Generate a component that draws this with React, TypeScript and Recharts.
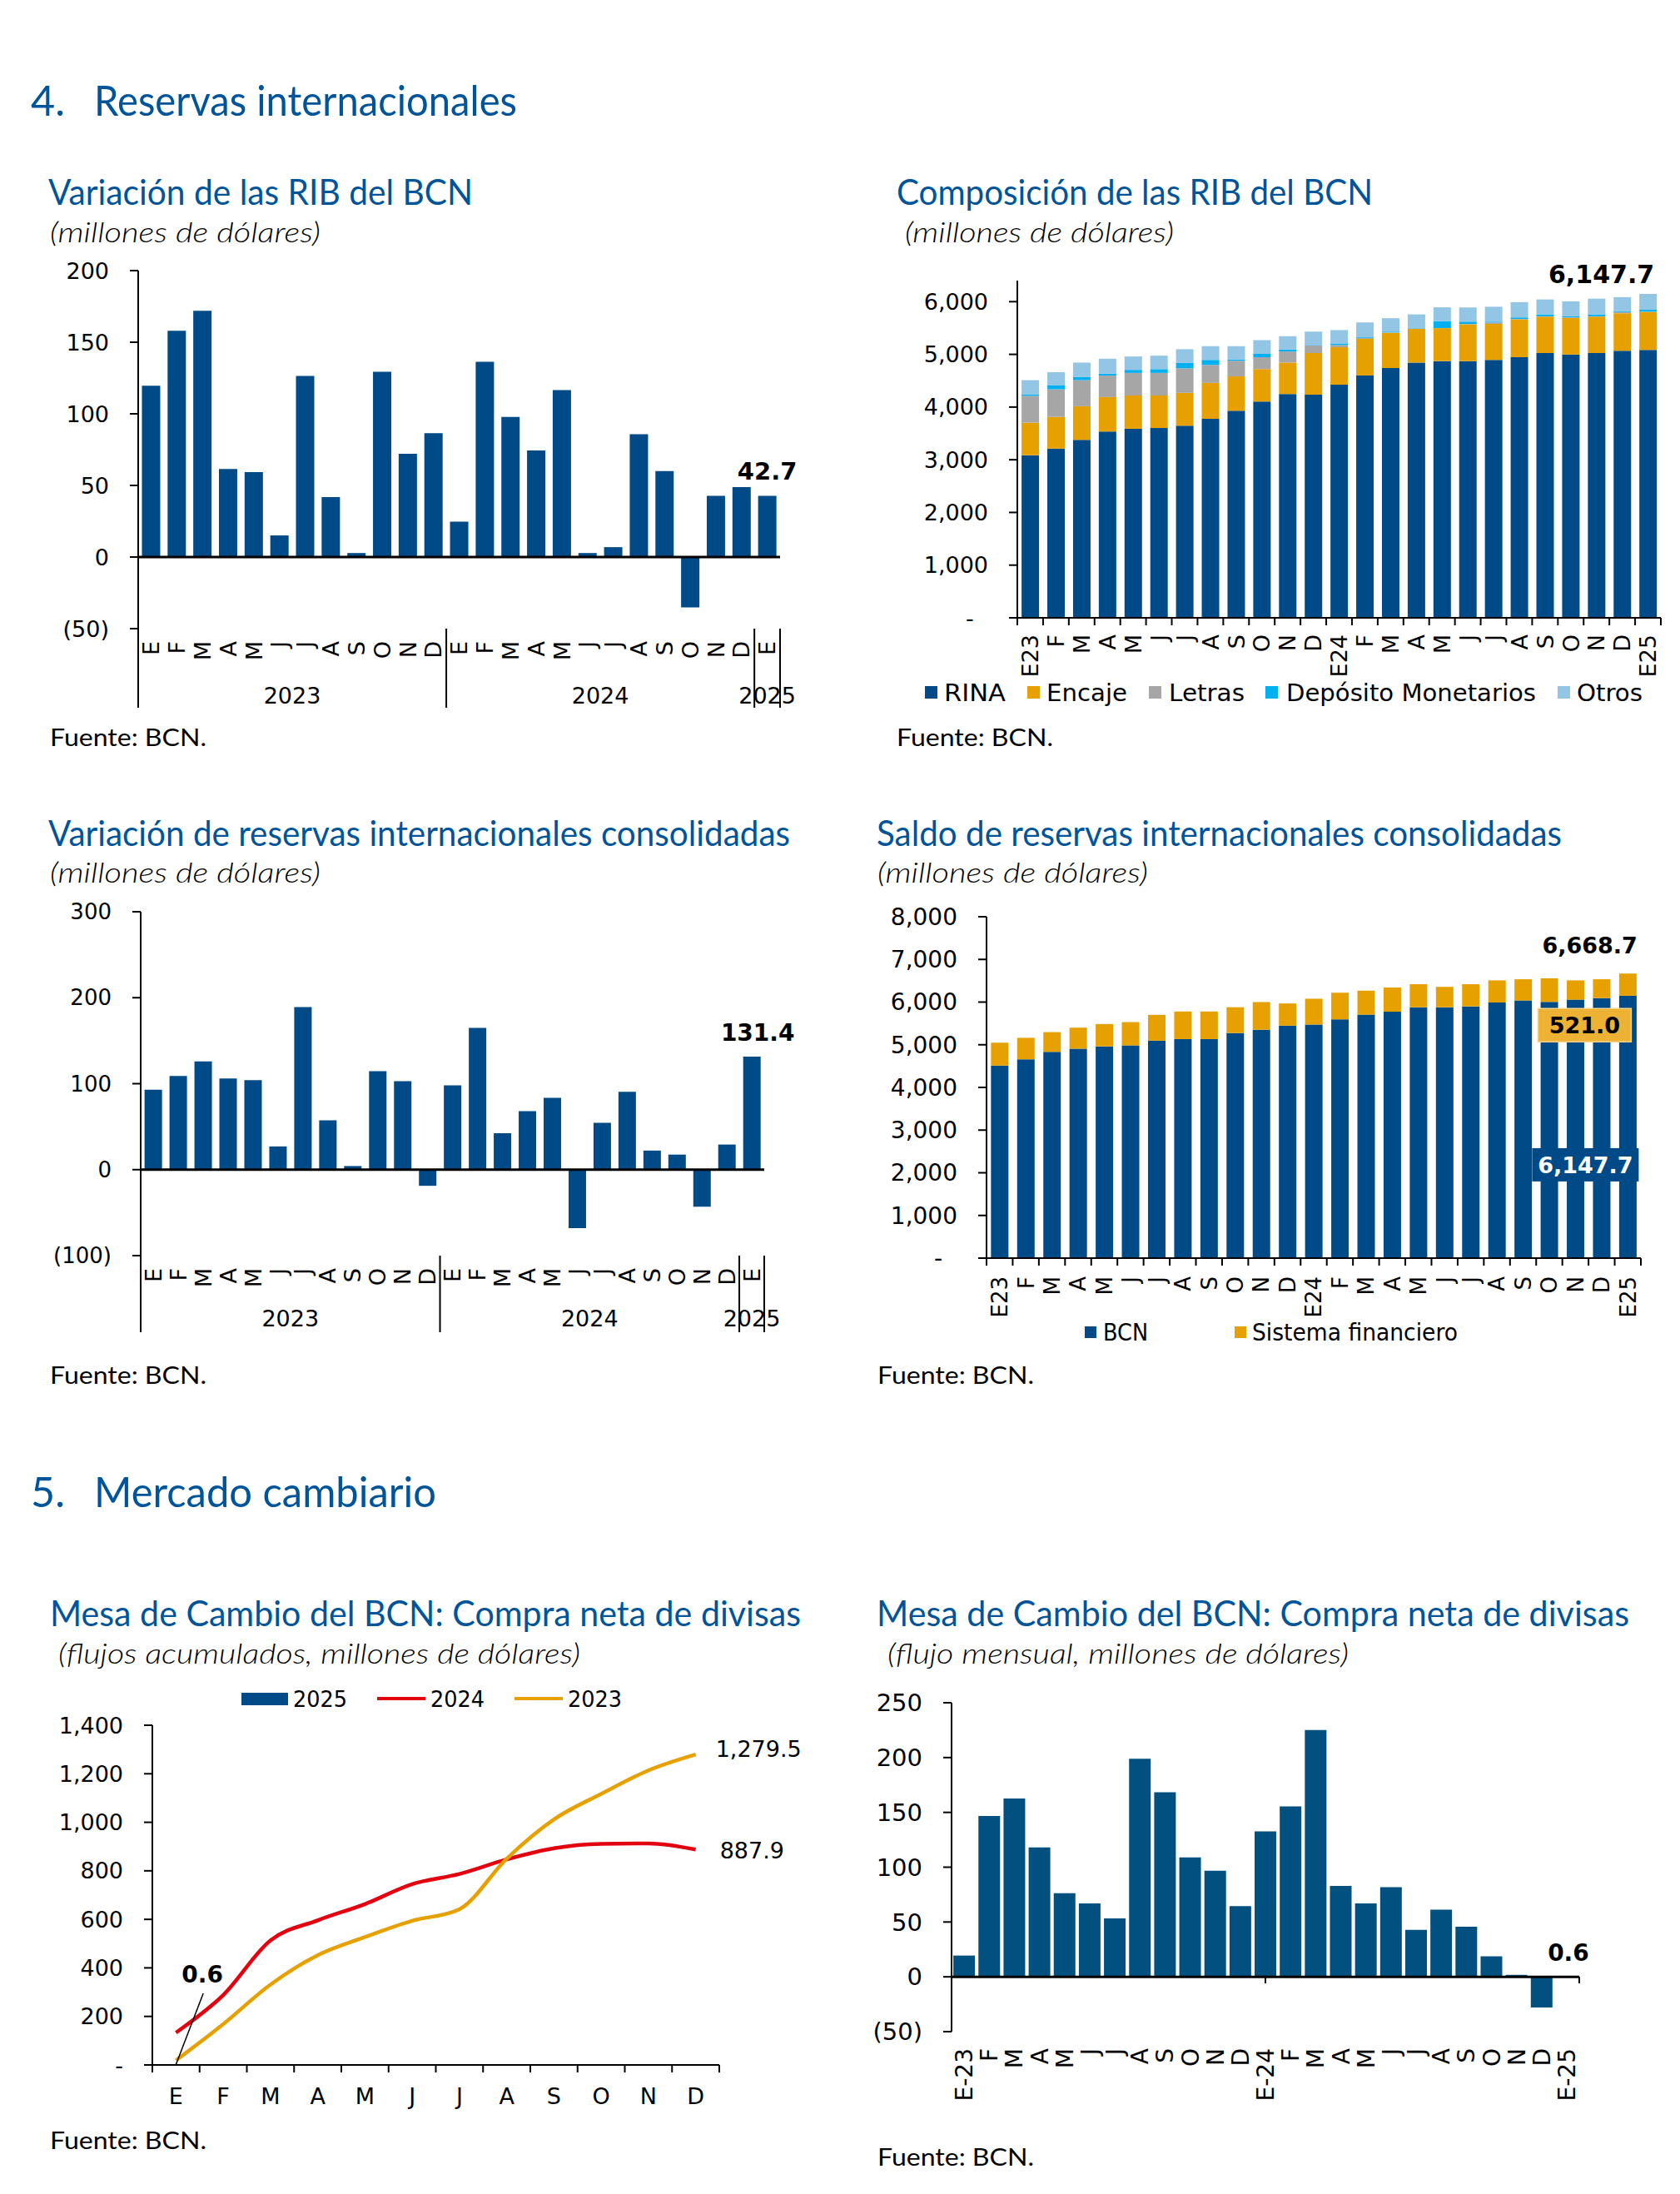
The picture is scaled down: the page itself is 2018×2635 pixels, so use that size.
import React from 'react';
import { BarChart, Bar, XAxis, YAxis, ReferenceLine, LabelList, ComposedChart, Line } from 'recharts';

const FONT = '"DejaVu Sans", Verdana, sans-serif';
const TFONT = 'Lato, "Open Sans", sans-serif';
const BLUE = '#004B87';
const BLUE6 = '#02507F';
const AMBER = '#E6A100';
const GRAY = '#A6A6A6';
const CYAN = '#00B0F0';
const LIGHT = '#93C5E4';
const RED = '#E3000F';
const TITLE = '#00549A';

// ---------- data ----------
const monthLetters = ['E','F','M','A','M','J','J','A','S','O','N','D','E','F','M','A','M','J','J','A','S','O','N','D','E'];
const periodCodes = ['E23','F','M','A','M','J','J','A','S','O','N','D','E24','F','M','A','M','J','J','A','S','O','N','D','E25'];
const periodCodesDash = ['E-23','F','M','A','M','J','J','A','S','O','N','D','E-24','F','M','A','M','J','J','A','S','O','N','D','E-25'];
const yearGroups = [
  { label: '2023', start: 0, count: 12 },
  { label: '2024', start: 12, count: 12 },
  { label: '2025', start: 24, count: 1 },
];
const months12 = ['E','F','M','A','M','J','J','A','S','O','N','D'];

// Chart 1: Variación de las RIB del BCN
const ribVariation = [119.6, 158, 172, 61.5, 59.3, 15.1, 126.4, 41.9, 2.8, 129.4, 72.1, 86.5, 24.7, 136.3, 97.8, 74.4, 116.5, 2.8, 6.9, 85.8, 60.1, -35.2, 42.8, 48.8, 42.7];

// Chart 2: Composición de las RIB del BCN
const compNames = ['RINA', 'Encaje', 'Letras', 'Depósito Monetarios', 'Otros'];
const rina = [3086, 3210, 3377, 3537, 3588, 3602, 3646, 3776, 3929, 4103, 4248, 4234, 4423, 4597, 4742, 4844, 4873, 4873, 4895, 4946, 5025, 4996, 5025, 5069, 5083];
const encaje = [618, 603, 639, 653, 631, 617, 624, 683, 653, 617, 596, 791, 711, 697, 668, 639, 624, 697, 682, 718, 690, 697, 690, 712, 720];
const letras = [508, 523, 494, 407, 429, 429, 465, 341, 298, 226, 210, 145, 44, 14, 7, 7, 3, 7, 29, 7, 7, 7, 7, 22, 7];
const depositos = [29, 72, 58, 36, 58, 72, 102, 95, 22, 65, 37, 8, 29, 15, 15, 7, 131, 44, 15, 30, 37, 22, 37, 14, 36];
const otros = [269, 254, 276, 284, 254, 255, 261, 261, 254, 261, 254, 254, 254, 283, 254, 262, 262, 269, 283, 290, 283, 284, 298, 269, 301.7];

// Chart 3: Variación de reservas internacionales consolidadas
const consVariation = [93, 109, 126, 106, 104, 27, 189, 57.5, 4.2, 114.5, 103, -18.8, 98, 165, 42.3, 68, 83.5, -68, 54.6, 90.5, 22.2, 17.5, -43, 29.2, 131.4];

// Chart 4: Saldo de reservas internacionales consolidadas
const saldoNames = ['BCN', 'Sistema financiero'];
const saldoBCN = [4513, 4659, 4833, 4908, 4963, 4985, 5096, 5133, 5133, 5274, 5352, 5448, 5474, 5596, 5705, 5774, 5879, 5879, 5900, 5990, 6037, 6004, 6057, 6094, 6147.7];
const saldoSF = [535, 504, 463, 492, 522, 546, 604, 646, 646, 605, 648, 520, 605, 624, 563, 568, 541, 478, 520, 519, 498, 553, 452, 441, 521.0];

// Chart 5: Compra neta acumulada
const cum2025 = [0.6, null, null, null, null, null, null, null, null, null, null, null];
const cum2024 = [133, 288, 513, 596, 663, 745, 787, 847, 893, 911, 913, 887.9];
const cum2023 = [19, 168, 331, 452, 527, 594, 642, 850, 1012, 1117, 1214, 1279.5];

// Chart 6: Compra neta mensual
const monthlyFlow = [19.4, 146.8, 162.6, 118, 76.3, 66.9, 53.2, 198.9, 168.3, 109, 96.8, 64.4, 132.7, 155.4, 225.2, 83, 66.9, 81.7, 42.8, 61.2, 45.7, 18.7, 1.8, -28, 0.6];

// ---------- layout ----------
type Box = { L: number; T: number; W: number; H: number; x0: number; x1: number; y0: number; y1: number; yw: number; xh: number };
const C1: Box = { L: 0, T: 300, W: 1000, H: 580, x0: 166, x1: 937, y0: 325, y1: 755, yw: 100, xh: 100 };
const C2: Box = { L: 1010, T: 310, W: 1008, H: 560, x0: 1222, x1: 1995, y0: 337, y1: 742, yw: 120, xh: 80 };
const C3: Box = { L: 0, T: 1070, W: 1000, H: 560, x0: 169, x1: 918, y0: 1095, y1: 1508, yw: 100, xh: 100 };
const C4: Box = { L: 1010, T: 1075, W: 1008, H: 540, x0: 1185, x1: 1971, y0: 1101, y1: 1511, yw: 130, xh: 80 };
const C5: Box = { L: 0, T: 2050, W: 1000, H: 520, x0: 183, x1: 864, y0: 2072, y1: 2480, yw: 120, xh: 60 };
const C6: Box = { L: 1010, T: 2020, W: 1008, H: 560, x0: 1143, x1: 1897, y0: 2045, y1: 2440, yw: 100, xh: 90 };
const mg = (c: Box) => ({ top: c.y0 - c.T, left: c.x0 - c.L - c.yw, right: c.L + c.W - c.x1, bottom: c.T + c.H - c.y1 - c.xh });

const fmtParen = (v: number) => (v < 0 ? `(${Math.abs(v)})` : `${v}`);
const fmtThousandsPad = (v: number) => (v === 0 ? '-\u00A0\u00A0' : v.toLocaleString('en-US'));
const fmtThousands = (v: number) => (v === 0 ? '-' : v.toLocaleString('en-US'));
const fmt1 = (v: number) => v.toLocaleString('en-US', { minimumFractionDigits: 1, maximumFractionDigits: 1 });

const axisStyle = { stroke: '#000', strokeWidth: 2 };
const tickStyle = (fs: number) => ({ fill: '#000', fontSize: fs, fontFamily: FONT });

// ---------- tick renderers ----------
function LetterYearTick(p: any) {
  const { x, y, index, band, fs, letters, groups, lineLen, letterGap, yearDy, yearFs } = p;
  const n = letters.length;
  const out: any[] = [];
  out.push(
    <text key="t" transform={`translate(${x + fs * 0.36},${y + letterGap}) rotate(-90)`} textAnchor="end" fontSize={fs} fontFamily={FONT} fill="#000">
      {letters[index]}
    </text>
  );
  groups.forEach((g: any) => {
    if (g.start === index) {
      out.push(<line key={'s' + g.label} x1={x - band / 2} x2={x - band / 2} y1={y} y2={y + lineLen} stroke="#000" strokeWidth={2} />);
      out.push(
        <text key={'y' + g.label} x={x - band / 2 + (g.count * band) / 2} y={y + yearDy} textAnchor="middle" fontSize={yearFs} fontFamily={FONT} fill="#000">
          {g.label}
        </text>
      );
    }
  });
  if (index === n - 1) out.push(<line key="end" x1={x + band / 2} x2={x + band / 2} y1={y} y2={y + lineLen} stroke="#000" strokeWidth={2} />);
  return <g>{out}</g>;
}

function RotTick(p: any) {
  const { x, y, index, band, fs, labels, gap, marks, markLen } = p;
  const n = labels.length;
  return (
    <g>
      {marks && <line x1={x - band / 2} x2={x - band / 2} y1={y} y2={y + markLen} stroke="#000" strokeWidth={2} />}
      {marks && index === n - 1 && <line x1={x + band / 2} x2={x + band / 2} y1={y} y2={y + markLen} stroke="#000" strokeWidth={2} />}
      <text transform={`translate(${x + fs * 0.36},${y + gap}) rotate(-90)`} textAnchor="end" fontSize={fs} fontFamily={FONT} fill="#000">
        {labels[index]}
      </text>
    </g>
  );
}

function MonthTick(p: any) {
  const { x, y, index, band, fs, labels, dy, markLen } = p;
  const n = labels.length;
  return (
    <g>
      <line x1={x - band / 2} x2={x - band / 2} y1={y} y2={y + markLen} stroke="#000" strokeWidth={2} />
      {index === n - 1 && <line x1={x + band / 2} x2={x + band / 2} y1={y} y2={y + markLen} stroke="#000" strokeWidth={2} />}
      <text x={x} y={y + dy} textAnchor="middle" fontSize={fs} fontFamily={FONT} fill="#000">
        {labels[index]}
      </text>
    </g>
  );
}

const geo = (p: any) => {
  const vb = p.viewBox || {};
  return {
    x: p.x ?? vb.x,
    y: p.y ?? vb.y,
    width: p.width ?? vb.width ?? 0,
    height: p.height ?? vb.height ?? 0,
  };
};

// ---------- charts ----------
function Chart1() {
  const data = ribVariation.map((v, i) => ({ k: String(i), v }));
  const band = (C1.x1 - C1.x0) / data.length;
  const last = data.length - 1;
  return (
    <BarChart width={C1.W} height={C1.H} data={data} margin={mg(C1)} barCategoryGap="14.5%">
      <XAxis dataKey="k" axisLine={false} tickLine={false} tickSize={0} tickMargin={0} interval={0} height={C1.xh}
        tick={(p: any) => <LetterYearTick {...p} band={band} fs={27} letters={monthLetters} groups={yearGroups} lineLen={95} letterGap={15} yearDy={90} yearFs={27} />} />
      <YAxis domain={[-50, 200]} ticks={[-50, 0, 50, 100, 150, 200]} interval={0} width={C1.yw} tickFormatter={fmtParen}
        axisLine={axisStyle} tickLine={axisStyle} tickSize={10} tickMargin={25} tick={tickStyle(27)} allowDataOverflow />
      <Bar dataKey="v" fill={BLUE} isAnimationActive={false}>
        <LabelList dataKey="v" content={(p: any) => {
          if (p.index !== last) return null;
          const g = geo(p);
          return <text x={g.x + g.width / 2} y={g.y - 20} textAnchor="middle" fontSize={29} fontWeight="bold" fontFamily={FONT} fill="#000">{fmt1(Number(p.value))}</text>;
        }} />
      </Bar>
      <ReferenceLine y={0} stroke="#000" strokeWidth={3} />
    </BarChart>
  );
}

function Chart2() {
  const data = rina.map((r, i) => ({ k: String(i), rina: r, enc: encaje[i], let: letras[i], dep: depositos[i], otr: otros[i], total: r + encaje[i] + letras[i] + depositos[i] + otros[i] }));
  const band = (C2.x1 - C2.x0) / data.length;
  const last = data.length - 1;
  return (
    <BarChart width={C2.W} height={C2.H} data={data} margin={mg(C2)} barCategoryGap="16.5%">
      <XAxis dataKey="k" axisLine={axisStyle} tickLine={false} tickSize={0} tickMargin={0} interval={0} height={C2.xh}
        tick={(p: any) => <RotTick {...p} band={band} fs={27} labels={periodCodes} gap={20} marks markLen={9} />} />
      <YAxis domain={[0, 6400]} ticks={[0, 1000, 2000, 3000, 4000, 5000, 6000]} interval={0} width={C2.yw} tickFormatter={fmtThousandsPad}
        axisLine={axisStyle} tickLine={axisStyle} tickSize={10} tickMargin={25} tick={tickStyle(27)} allowDataOverflow />
      <Bar dataKey="rina" stackId="a" fill={BLUE} isAnimationActive={false} />
      <Bar dataKey="enc" stackId="a" fill={AMBER} isAnimationActive={false} />
      <Bar dataKey="let" stackId="a" fill={GRAY} isAnimationActive={false} />
      <Bar dataKey="dep" stackId="a" fill={CYAN} isAnimationActive={false} />
      <Bar dataKey="otr" stackId="a" fill={LIGHT} isAnimationActive={false}>
        <LabelList dataKey="total" content={(p: any) => {
          if (p.index !== last) return null;
          const g = geo(p);
          return <text x={g.x + g.width - 3} y={g.y - 13} textAnchor="end" fontSize={30} fontWeight="bold" fontFamily={FONT} fill="#000">{fmt1(Number(p.value))}</text>;
        }} />
      </Bar>
    </BarChart>
  );
}

function Chart3() {
  const data = consVariation.map((v, i) => ({ k: String(i), v }));
  const band = (C3.x1 - C3.x0) / data.length;
  const last = data.length - 1;
  return (
    <BarChart width={C3.W} height={C3.H} data={data} margin={mg(C3)} barCategoryGap="15.5%">
      <XAxis dataKey="k" axisLine={false} tickLine={false} tickSize={0} tickMargin={0} interval={0} height={C3.xh}
        tick={(p: any) => <LetterYearTick {...p} band={band} fs={27} letters={monthLetters} groups={yearGroups} lineLen={92} letterGap={15} yearDy={85} yearFs={27} />} />
      <YAxis domain={[-100, 300]} ticks={[-100, 0, 100, 200, 300]} interval={0} width={C3.yw} tickFormatter={fmtParen}
        axisLine={axisStyle} tickLine={axisStyle} tickSize={10} tickMargin={25} tick={tickStyle(26)} allowDataOverflow />
      <Bar dataKey="v" fill={BLUE} isAnimationActive={false}>
        <LabelList dataKey="v" content={(p: any) => {
          if (p.index !== last) return null;
          const g = geo(p);
          return <text x={g.x + g.width / 2 + 7} y={g.y - 19} textAnchor="middle" fontSize={28} fontWeight="bold" fontFamily={FONT} fill="#000">{fmt1(Number(p.value))}</text>;
        }} />
      </Bar>
      <ReferenceLine y={0} stroke="#000" strokeWidth={3} />
    </BarChart>
  );
}

function Chart4() {
  const data = saldoBCN.map((b, i) => ({ k: String(i), bcn: b, sf: saldoSF[i], total: b + saldoSF[i] }));
  const band = (C4.x1 - C4.x0) / data.length;
  const last = data.length - 1;
  return (
    <BarChart width={C4.W} height={C4.H} data={data} margin={mg(C4)} barCategoryGap="17%">
      <XAxis dataKey="k" axisLine={axisStyle} tickLine={false} tickSize={0} tickMargin={0} interval={0} height={C4.xh}
        tick={(p: any) => <RotTick {...p} band={band} fs={26} labels={periodCodes} gap={22} marks markLen={9} />} />
      <YAxis domain={[0, 8000]} ticks={[0, 1000, 2000, 3000, 4000, 5000, 6000, 7000, 8000]} interval={0} width={C4.yw} tickFormatter={fmtThousandsPad}
        axisLine={axisStyle} tickLine={axisStyle} tickSize={10} tickMargin={25} tick={tickStyle(28)} allowDataOverflow />
      <Bar dataKey="bcn" stackId="a" fill={BLUE} isAnimationActive={false} />
      <Bar dataKey="sf" stackId="a" fill={AMBER} isAnimationActive={false}>
        <LabelList dataKey="sf" content={(p: any) => {
          if (p.index !== last) return null;
          const g = geo(p);
          const row = data[last];
          const cx = g.x + g.width / 2;
          const bcnTop = g.y + g.height;
          const sfCy = g.y + 62;
          const bcCy = bcnTop + 203;
          return (
            <g>
              <text x={g.x + g.width + 1} y={g.y - 24} textAnchor="end" fontSize={27} fontWeight="bold" fontFamily={FONT} fill="#000">{fmt1(row.total)}</text>
              <rect x={cx - 52 - 56} y={sfCy - 20} width={112} height={40} fill="#EDB234" stroke="#F5D48A" strokeWidth={1.5} />
              <text x={cx - 52} y={sfCy + 10} textAnchor="middle" fontSize={27} fontWeight="bold" fontFamily={FONT} fill="#000">{fmt1(row.sf)}</text>
              <rect x={cx - 51 - 64} y={bcCy - 20} width={128} height={40} fill={BLUE} />
              <text x={cx - 51} y={bcCy + 10} textAnchor="middle" fontSize={27} fontWeight="bold" fontFamily={FONT} fill="#fff">{fmt1(row.bcn)}</text>
            </g>
          );
        }} />
      </Bar>
    </BarChart>
  );
}

function Chart5() {
  const data = months12.map((m, i) => ({ k: String(i), a25: cum2025[i], a24: cum2024[i], a23: cum2023[i] }));
  const band = (C5.x1 - C5.x0) / data.length;
  const last = data.length - 1;
  const endLabel = (dx: number, dy: number) => (p: any) => {
    if (p.index !== last) return null;
    const g = geo(p);
    return <text x={g.x + dx} y={g.y + dy} textAnchor="start" fontSize={27} fontFamily={FONT} fill="#000">{fmt1(Number(p.value))}</text>;
  };
  return (
    <ComposedChart width={C5.W} height={C5.H} data={data} margin={mg(C5)} barCategoryGap="10%">
      <XAxis dataKey="k" axisLine={axisStyle} tickLine={false} tickSize={0} tickMargin={0} interval={0} height={C5.xh}
        tick={(p: any) => <MonthTick {...p} band={band} fs={27} labels={months12} dy={47} markLen={9} />} />
      <YAxis domain={[0, 1400]} ticks={[0, 200, 400, 600, 800, 1000, 1200, 1400]} interval={0} width={C5.yw} tickFormatter={fmtThousands}
        axisLine={axisStyle} tickLine={axisStyle} tickSize={10} tickMargin={25} tick={tickStyle(27)} allowDataOverflow />
      <Bar dataKey="a25" fill={BLUE} isAnimationActive={false}>
        <LabelList dataKey="a25" content={(p: any) => {
          if (p.index !== 0) return null;
          const g = geo(p);
          const cx = g.x + g.width / 2;
          const by = g.y + g.height;
          return (
            <g>
              <line x1={cx} y1={by} x2={cx + 33} y2={by - 86} stroke="#000" strokeWidth={1.5} />
              <text x={cx + 32} y={by - 99} textAnchor="middle" fontSize={28} fontWeight="bold" fontFamily={FONT} fill="#000">{fmt1(Number(p.value))}</text>
            </g>
          );
        }} />
      </Bar>
      <Line dataKey="a24" type="monotone" stroke={RED} strokeWidth={4.5} dot={false} isAnimationActive={false}>
        <LabelList dataKey="a24" content={endLabel(29, 11)} />
      </Line>
      <Line dataKey="a23" type="monotone" stroke={AMBER} strokeWidth={4.5} dot={false} isAnimationActive={false}>
        <LabelList dataKey="a23" content={endLabel(24, 3)} />
      </Line>
    </ComposedChart>
  );
}

function Chart6() {
  const data = monthlyFlow.map((v, i) => ({ k: String(i), v }));
  const band = (C6.x1 - C6.x0) / data.length;
  const last = data.length - 1;
  return (
    <BarChart width={C6.W} height={C6.H} data={data} margin={mg(C6)} barCategoryGap="7%">
      <XAxis dataKey="k" axisLine={false} tickLine={false} tickSize={0} tickMargin={0} interval={0} height={C6.xh}
        tick={(p: any) => <RotTick {...p} band={band} fs={28} labels={periodCodesDash} gap={20} />} />
      <XAxis xAxisId="n" type="number" domain={[0, data.length]} hide allowDataOverflow />
      <YAxis domain={[-50, 250]} ticks={[-50, 0, 50, 100, 150, 200, 250]} interval={0} width={C6.yw} tickFormatter={fmtParen}
        axisLine={axisStyle} tickLine={axisStyle} tickSize={10} tickMargin={25} tick={tickStyle(29)} allowDataOverflow />
      <Bar dataKey="v" fill={BLUE6} isAnimationActive={false}>
        <LabelList dataKey="v" content={(p: any) => {
          if (p.index !== last) return null;
          const g = geo(p);
          return <text x={g.x + g.width / 2 + 2} y={g.y - 18} textAnchor="middle" fontSize={28} fontWeight="bold" fontFamily={FONT} fill="#000">{fmt1(Number(p.value))}</text>;
        }} />
      </Bar>
      <ReferenceLine y={0} stroke="#000" strokeWidth={3} />
      <ReferenceLine xAxisId="n" segment={[{ x: 12, y: 0 }, { x: 12, y: -6 }]} stroke="#000" strokeWidth={2} ifOverflow="visible" />
      <ReferenceLine xAxisId="n" segment={[{ x: 24, y: 0 }, { x: 24, y: -6 }]} stroke="#000" strokeWidth={2} ifOverflow="visible" />
    </BarChart>
  );
}

// ---------- text layer ----------
function T(props: any) {
  const { x, y, size, w, children, italic, color, family, anchor, weight } = props;
  return (
    <text x={x} y={y} fontSize={size} fontFamily={family || TFONT} fontStyle={italic ? 'italic' : 'normal'} fontWeight={weight || 'normal'} fill={color || TITLE}
      textLength={w} lengthAdjust={w ? 'spacingAndGlyphs' : undefined} textAnchor={anchor || 'start'}>
      {children}
    </text>
  );
}

const SUB = '#000';

function TextLayer() {
  const compColors = [BLUE, AMBER, GRAY, CYAN, LIGHT];
  const compLeg = [
    { sq: 1111, tx: 1134, w: 74 },
    { sq: 1234, tx: 1257, w: 97 },
    { sq: 1380, tx: 1404, w: 91 },
    { sq: 1520, tx: 1545, w: 300 },
    { sq: 1871, tx: 1894, w: 79 },
  ];
  const saldoColors = [BLUE, AMBER];
  const saldoLeg = [
    { sq: 1303, tx: 1325, w: 54 },
    { sq: 1483, tx: 1504, w: 247 },
  ];
  return (
    <svg width={2018} height={2635} style={{ position: 'absolute', left: 0, top: 0 }}>
      <T x={37} y={139} size={51} w={41}>4.</T>
      <T x={113} y={139} size={51} w={508}>Reservas internacionales</T>

      <T x={58} y={246} size={43} w={510}>Variación de las RIB del BCN</T>
      <T x={60} y={291} size={34} w={325} italic weight={300} color={SUB}>(millones de dólares)</T>
      <T x={60} y={896} size={28} w={188} color="#000">Fuente: BCN.</T>

      <T x={1077} y={246} size={43} w={572}>Composición de las RIB del BCN</T>
      <T x={1087} y={291} size={34} w={323} italic weight={300} color={SUB}>(millones de dólares)</T>
      <T x={1077} y={896} size={28} w={188} color="#000">Fuente: BCN.</T>

      <T x={58} y={1016} size={43} w={891}>Variación de reservas internacionales consolidadas</T>
      <T x={60} y={1060} size={34} w={325} italic weight={300} color={SUB}>(millones de dólares)</T>
      <T x={60} y={1662} size={28} w={188} color="#000">Fuente: BCN.</T>

      <T x={1053} y={1016} size={43} w={823}>Saldo de reservas internacionales consolidadas</T>
      <T x={1054} y={1060} size={34} w={325} italic weight={300} color={SUB}>(millones de dólares)</T>
      <T x={1054} y={1662} size={28} w={188} color="#000">Fuente: BCN.</T>

      <T x={37} y={1810} size={51} w={41}>5.</T>
      <T x={113} y={1810} size={51} w={411}>Mercado cambiario</T>

      <T x={60} y={1953} size={43} w={902}>Mesa de Cambio del BCN: Compra neta de divisas</T>
      <T x={70} y={1998} size={34} w={627} italic weight={300} color={SUB}>(flujos acumulados, millones de dólares)</T>
      <T x={60} y={2581} size={28} w={188} color="#000">Fuente: BCN.</T>

      <T x={1053} y={1953} size={43} w={904}>Mesa de Cambio del BCN: Compra neta de divisas</T>
      <T x={1066} y={1998} size={34} w={554} italic weight={300} color={SUB}>(flujo mensual, millones de dólares)</T>
      <T x={1054} y={2601} size={28} w={188} color="#000">Fuente: BCN.</T>

      {compNames.map((n, i) => (
        <g key={n}>
          <rect x={compLeg[i].sq} y={824} width={15} height={15} fill={compColors[i]} />
          <T x={compLeg[i].tx} y={842} size={29} w={compLeg[i].w} family={FONT} color="#000">{n}</T>
        </g>
      ))}

      {saldoNames.map((n, i) => (
        <g key={n}>
          <rect x={saldoLeg[i].sq} y={1593} width={14} height={14} fill={saldoColors[i]} />
          <T x={saldoLeg[i].tx} y={1610} size={28} w={saldoLeg[i].w} family={FONT} color="#000">{n}</T>
        </g>
      ))}

      <rect x={290} y={2033} width={56} height={15} fill={BLUE} />
      <T x={352} y={2050} size={26} w={65} family={FONT} color="#000">2025</T>
      <line x1={453} x2={511} y1={2040} y2={2040} stroke={RED} strokeWidth={4} />
      <T x={517} y={2050} size={26} w={65} family={FONT} color="#000">2024</T>
      <line x1={618} x2={676} y1={2040} y2={2040} stroke={AMBER} strokeWidth={4} />
      <T x={682} y={2050} size={26} w={65} family={FONT} color="#000">2023</T>
    </svg>
  );
}

const place = (c: Box) => ({ position: 'absolute' as const, left: c.L, top: c.T });

export default function App() {
  return (
    <div style={{ position: 'relative', width: 2018, height: 2635, background: '#fff', overflow: 'hidden' }}>
      <style>{'body{margin:0;background:#fff}'}</style>
      <TextLayer />
      <div style={place(C1)}><Chart1 /></div>
      <div style={place(C2)}><Chart2 /></div>
      <div style={place(C3)}><Chart3 /></div>
      <div style={place(C4)}><Chart4 /></div>
      <div style={place(C5)}><Chart5 /></div>
      <div style={place(C6)}><Chart6 /></div>
    </div>
  );
}
